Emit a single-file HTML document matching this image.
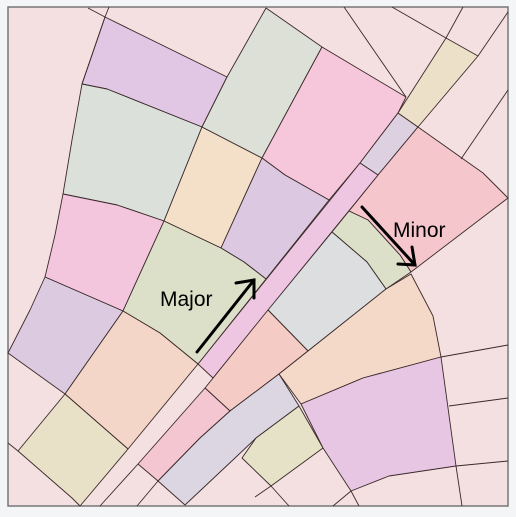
<!DOCTYPE html>
<html><head><meta charset="utf-8"><style>
html,body{margin:0;padding:0;background:#f4f5f7;}
svg{display:block;}
text{font-family:"Liberation Sans",sans-serif;}
</style></head><body>
<svg width="516" height="517" viewBox="0 0 516 517">
<rect x="8" y="7" width="500" height="499" fill="#f4dfe1" stroke="#777" stroke-width="1.5"/>
<g stroke="#3a2a2a" stroke-width="0.9" stroke-linejoin="round">
<polygon fill="#e1c7e3" points="105,17 227,77 202,127 107,89 82,84"/>
<polygon fill="#dce0da" points="82,84 107,89 202,127 164,221 117,205 63,194 72,140"/>
<polygon fill="#f4e0c9" points="202,127 262,158 221,248 164,221"/>
<polygon fill="#f4c6de" points="63,194 117,205 164,221 123,311 45,277 55,235"/>
<polygon fill="#dce0d6" points="266,8 322,47 262,158 202,127 227,77"/>
<polygon fill="#f6c6da" points="322,47 406,97 398,113 360,163 329,200 285,175 262,158"/>
<polygon fill="#dcc8e0" points="262,158 285,175 329,200 266,279 244,262 221,248"/>
<polygon fill="#ddd0e0" points="398,113 418,127 378,175 360,163"/>
<polygon fill="#ede0c8" points="446,38 478,56 418,127 398,113"/>
<polygon fill="#f5c6cc" points="418,127 483,173 500,190 508,198 411,272 400,255 368,220 349,211 378,175"/>
<polygon fill="#efc6e2" points="360,163 378,175 213,378 198,364"/>
<polygon fill="#dde0c8" points="349,211 368,220 400,255 411,272 386,289 367,262 332,232"/>
<polygon fill="#dcdee0" points="332,232 367,262 386,289 308,351 268,310"/>
<polygon fill="#dde0c8" points="164,221 221,248 244,262 266,279 198,364 160,333 123,311"/>
<polygon fill="#dccbe0" points="45,277 123,311 65,394 8,353 30,310"/>
<polygon fill="#f4d6c8" points="123,311 160,333 198,364 128,449 65,394"/>
<polygon fill="#e9e0c8" points="18,451 65,394 128,449 80,506 72,498"/>
<polygon fill="#f5cbc6" points="268,310 308,351 279,374 230,411 205,388"/>
<polygon fill="#f4c6d2" points="205,388 230,411 200,438 158,481 138,464"/>
<polygon fill="#dcd6e2" points="279,374 299,406 256,438 235,458 185,505 158,481 200,438 230,411"/>
<polygon fill="#e5e2c8" points="299,406 323,448 271,486 242,458 256,438"/>
<polygon fill="#f4d9c8" points="386,289 411,274 433,316 441,357 363,378 301,404 279,374 308,351"/>
<polygon fill="#e7c6e3" points="301,404 363,378 441,357 456,466 389,476 351,491 323,448"/>
</g>
<g stroke="#3a2a2a" stroke-width="0.9" fill="none">
<polyline points="88,8 105,17 109,7"/>
<polyline points="82,84 105,17"/>
<polyline points="392,7 446,38 463,7"/>
<polyline points="478,56 508,12"/>
<polyline points="461,159 508,90"/>
<polyline points="406,97 344,7"/>
<polyline points="8,443 18,451"/>
<polyline points="100,506 138,464"/>
<polyline points="137,506 158,481"/>
<polyline points="271,486 289,506"/>
<polyline points="271,486 255,497"/>
<polyline points="351,491 359,506"/>
<polyline points="351,491 333,506"/>
<polyline points="441,357 508,345"/>
<polyline points="449,406 508,398"/>
<polyline points="456,466 508,461"/>
<polyline points="456,466 462,506"/>
</g>
<g stroke="#000" stroke-width="3" fill="none" stroke-linecap="round">
<line x1="197" y1="352" x2="254" y2="280"/>
<polyline points="236,283 254,280 254,298"/>
<line x1="362" y1="207" x2="415" y2="265"/>
<polyline points="412,247 415,265 398,264"/>
</g>
<text x="160" y="306" font-size="21" fill="#000">Major</text>
<text x="393" y="237" font-size="21" fill="#000">Minor</text>
</svg>
</body></html>
